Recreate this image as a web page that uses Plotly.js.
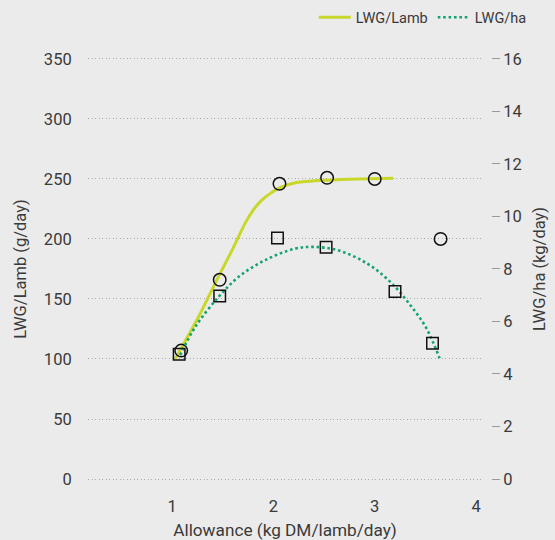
<!DOCTYPE html>
<html>
<head>
<meta charset="utf-8">
<script src="https://cdn.plot.ly/plotly-3.0.1.min.js"></script>
<style>
  html, body { margin: 0; padding: 0; background: #ebebeb; }
  #chart { width: 555px; height: 540px; }
</style>
</head>
<body>
<div id="chart"></div>
<script>
// Observed data (markers)
var lambX = [1.09, 1.47, 2.06, 2.53, 3.00, 3.65];
var lambY = [107, 166, 246, 251, 250, 200];
var haX = [1.07, 1.47, 2.04, 2.52, 3.20, 3.57];
var haY = [4.75, 6.97, 9.18, 8.83, 7.14, 5.17];

// Fitted curves
var lambCurveX = [1.03, 1.26, 1.46, 1.60, 1.72, 1.80, 1.88, 1.97, 2.07, 2.23, 2.53, 2.85, 3.18];
var lambCurveY = [100, 135, 169, 192, 213, 224, 232, 238, 243, 247, 249, 250, 250.5];
var haCurveX = [1.08, 1.23, 1.46, 1.66, 1.92, 2.21, 2.39, 2.63, 2.92, 3.15, 3.35, 3.51, 3.64];
var haCurveY = [4.72, 5.80, 6.94, 7.71, 8.34, 8.77, 8.84, 8.72, 8.22, 7.52, 6.63, 5.74, 4.60];

var xTicks = [1, 2, 3, 4];
var yTicks = [0, 50, 100, 150, 200, 250, 300, 350];
var y2Ticks = [0, 2, 4, 6, 8, 10, 12, 14, 16];

var colLamb = '#c9d72b';
var colHa = '#13a36f';
var font = 'Roboto, "Open Sans", sans-serif';
var txt = '#3a3a3a';

var traces = [
  {
    x: lambCurveX, y: lambCurveY, type: 'scatter', mode: 'lines',
    name: 'LWG/Lamb', line: {color: colLamb, width: 3, shape: 'spline', smoothing: 0.7},
    yaxis: 'y', hoverinfo: 'skip'
  },
  {
    x: haCurveX, y: haCurveY, type: 'scatter', mode: 'lines',
    name: 'LWG/ha', line: {color: colHa, width: 2.6, dash: '2.6px,2.8px', shape: 'spline'},
    yaxis: 'y2', hoverinfo: 'skip'
  },
  {
    x: lambX, y: lambY, type: 'scatter', mode: 'markers', showlegend: false,
    marker: {symbol: 'circle-open', size: 12.5, color: '#111', line: {width: 1.5, color: '#111'}},
    yaxis: 'y'
  },
  {
    x: haX, y: haY, type: 'scatter', mode: 'markers', showlegend: false,
    marker: {symbol: 'square-open', size: 11.5, color: '#111', line: {width: 1.5, color: '#111'}},
    yaxis: 'y2'
  }
];

var layout = {
  width: 555, height: 540,
  paper_bgcolor: '#ebebeb', plot_bgcolor: '#ebebeb',
  font: {family: font, color: txt, size: 16},
  margin: {l: 88, r: 64, t: 55, b: 57, autoexpand: false},
  showlegend: true,
  legend: {
    orientation: 'h', xref: 'container', yref: 'container',
    x: 0.958, xanchor: 'right', y: 0.968, yanchor: 'middle',
    font: {size: 14.5, color: txt}, bgcolor: 'rgba(0,0,0,0)',
    itemwidth: 32, tracegroupgap: 0
  },
  xaxis: {
    domain: [0, 0.978],
    range: [0.17, 4.06],
    tickvals: xTicks, ticktext: xTicks.map(String),
    showgrid: false, zeroline: false, showline: false,
    ticks: 'outside', ticklen: 8, tickcolor: 'rgba(0,0,0,0)',
    tickfont: {size: 16.5, color: txt},
    title: {text: 'Allowance (kg DM/lamb/day)', font: {size: 17.2, color: txt}, standoff: 9}
  },
  yaxis: {
    range: [-3.33, 353.3],
    tickvals: yTicks, ticktext: yTicks.map(String),
    showgrid: true, gridcolor: '#ababab', griddash: '1px,2.5px', gridwidth: 1,
    zeroline: false, showline: false,
    ticks: 'outside', ticklen: 12, tickcolor: 'rgba(0,0,0,0)',
    tickfont: {size: 16.5, color: txt},
    title: {text: 'LWG/Lamb (g/day)', font: {size: 16.5, color: txt}, standoff: 13}
  },
  yaxis2: {
    overlaying: 'y', side: 'right', anchor: 'free', position: 1,
    range: [-0.152, 16.15],
    tickvals: y2Ticks, ticktext: y2Ticks.map(String),
    showgrid: false, zeroline: false, showline: false,
    ticks: 'outside', ticklen: 8, tickcolor: '#9a9a9a', tickwidth: 1,
    tickfont: {size: 16.5, color: txt},
    title: {text: 'LWG/ha (kg/day)', font: {size: 16.5, color: txt}, standoff: 12}
  }
};

Plotly.newPlot('chart', traces, layout, {displayModeBar: false, staticPlot: true});
</script>
</body>
</html>
